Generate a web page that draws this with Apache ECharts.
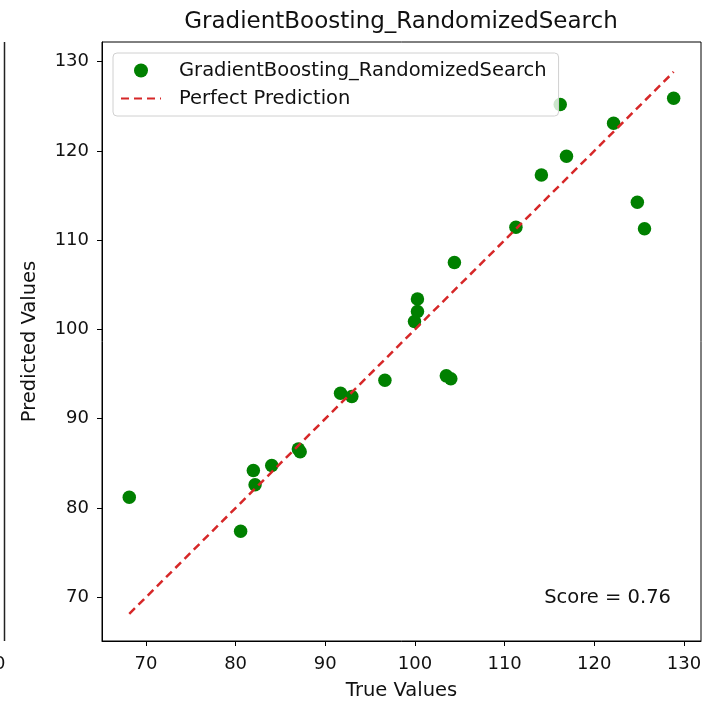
<!DOCTYPE html>
<html>
<head>
<meta charset="utf-8">
<script src="https://cdn.jsdelivr.net/npm/echarts@6/dist/echarts.min.js"></script>
<style>
  html, body { margin: 0; padding: 0; background: #fff; }
  #chart { width: 703px; height: 702px; }
</style>
</head>
<body>
<div id="chart"></div>
<script>
// values
var trueVals = [68.14, 80.56, 81.98, 82.17, 84.03, 87.0, 87.2, 91.7, 92.96, 96.65, 99.95, 100.28,
  100.28, 103.5, 104.0, 104.4, 111.26, 114.1, 116.2, 116.9, 122.15, 124.8, 125.6, 128.85];
var predVals = [81.2, 77.4, 84.2, 82.6, 84.76, 86.6, 86.3, 92.85, 92.5, 94.3, 100.9, 102.0,
  103.4, 94.8, 94.47, 107.5, 111.45, 117.3, 125.2, 119.4, 123.1, 114.25, 111.27, 125.9];
var xTicks = [70, 80, 90, 100, 110, 120, 130];
var yTicks = [70, 80, 90, 100, 110, 120, 130];
var xRange = [65.1, 131.9];
var yRange = [65.1, 132.2];
var modelName = 'GradientBoosting_RandomizedSearch';
var scoreText = 'Score = 0.76';

var pts = trueVals.map(function (t, i) { return [t, predVals[i]]; });
var lo = Math.min.apply(null, trueVals);
var hi = Math.max.apply(null, trueVals);

var font = 'DejaVu Sans';
var chart = echarts.init(document.getElementById('chart'));

chart.setOption({
  animation: false,
  textStyle: { fontFamily: font },
  title: {
    text: modelName,
    left: 396,
    textAlign: 'center',
    top: 6,
    textStyle: { fontFamily: font, fontSize: 23, fontWeight: 'normal', color: '#111' }
  },
  legend: {
    orient: 'vertical',
    left: 113,
    top: 53,
    padding: [7, 12, 7, 7],
    itemWidth: 40,
    itemHeight: 14,
    itemGap: 7,
    backgroundColor: 'rgba(255,255,255,0.8)',
    borderColor: '#d0d0d0',
    borderWidth: 1,
    borderRadius: 4,
    textStyle: { fontFamily: font, fontSize: 19.5, color: '#111', lineHeight: 21, padding: [0, 0, 0, 13] },
    data: [
      { name: modelName },
      { name: 'Perfect Prediction', itemStyle: { opacity: 0 } }
    ]
  },
  grid: {
    left: 102, top: 42, right: 2, bottom: 61,
    outerBoundsMode: 'none',
    show: true, borderColor: '#000', borderWidth: 1
  },
  xAxis: {
    type: 'value',
    min: xRange[0], max: xRange[1],
    name: 'True Values',
    nameLocation: 'middle',
    nameGap: 40,
    nameTextStyle: { fontFamily: font, fontSize: 19.5, color: '#111' },
    splitLine: { show: false },
    axisLine: { show: true, onZero: false, lineStyle: { color: '#000', width: 1 } },
    axisTick: { show: true, length: 5, customValues: xTicks, lineStyle: { color: '#000' } },
    axisLabel: { customValues: xTicks, margin: 14, fontFamily: font, fontSize: 18, color: '#111' }
  },
  yAxis: {
    type: 'value',
    min: yRange[0], max: yRange[1],
    name: 'Predicted Values',
    nameLocation: 'middle',
    nameGap: 62,
    nameTextStyle: { fontFamily: font, fontSize: 19.5, color: '#111' },
    splitLine: { show: false },
    axisLine: { show: true, onZero: false, lineStyle: { color: '#000', width: 1 } },
    axisTick: { show: true, length: 5, customValues: yTicks, lineStyle: { color: '#000' } },
    axisLabel: { customValues: yTicks, margin: 13, fontFamily: font, fontSize: 18, color: '#111' }
  },
  graphic: [
    // edge of the neighbouring subplot
    { type: 'line', shape: { x1: 4.5, y1: 42, x2: 4.5, y2: 641 }, style: { stroke: '#222', lineWidth: 1.5 } },
    { type: 'text', left: -6, top: 655, style: { text: '0', fontFamily: font, fontSize: 18, fill: '#111' } },
    { type: 'text', right: 32, top: 588, style: { text: scoreText, fontFamily: font, fontSize: 19.5, fill: '#111' } }
  ],
  series: [
    {
      name: modelName,
      type: 'scatter',
      symbol: 'circle',
      symbolSize: 13.5,
      itemStyle: { color: '#008000', opacity: 1 },
      data: pts
    },
    {
      name: 'Perfect Prediction',
      type: 'line',
      symbol: 'none',
      lineStyle: { color: '#d62728', width: 2.5, type: [8, 5] },
      itemStyle: { color: '#d62728' },
      data: [[lo, lo], [hi, hi]]
    }
  ]
});
</script>
</body>
</html>
